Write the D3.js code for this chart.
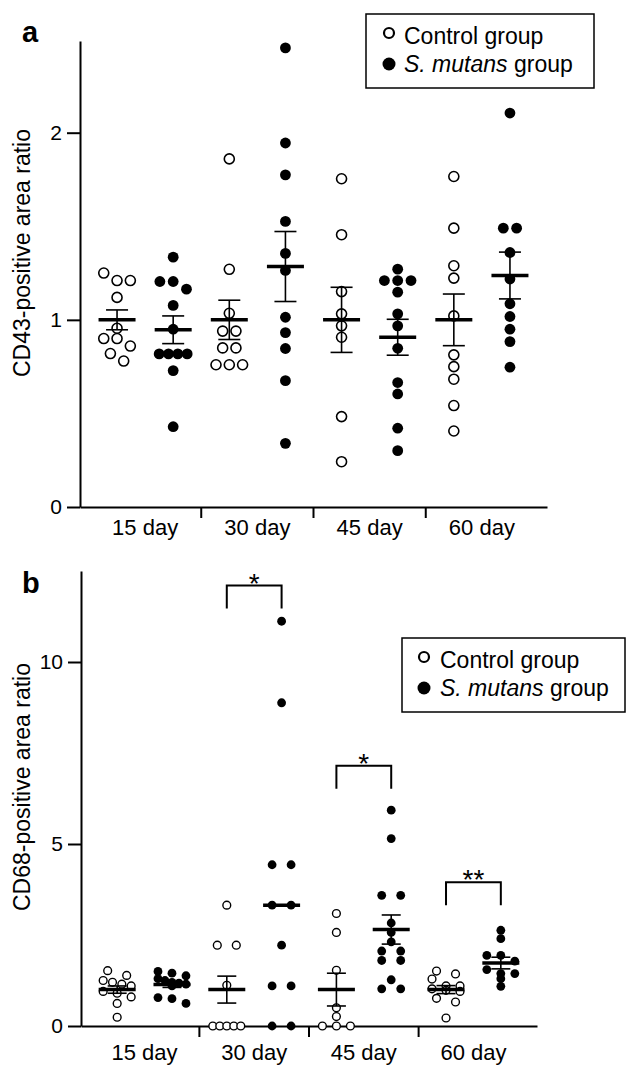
<!DOCTYPE html>
<html>
<head>
<meta charset="utf-8">
<script src="https://cdn.jsdelivr.net/npm/d3@7"></script>
<style>
  body { margin: 0; background: #fff; }
  svg { display: block; font-family: 'Liberation Sans', Arial, sans-serif; }
</style>
</head>
<body>
<figure style="margin:0"></figure>
<script>
const width = 626
const height = 1065

const days = ['15 day', '30 day', '45 day', '60 day']
const groups = ['Control group', 'S. mutans group']

// panel a : CD43
const cd43Ticks = [0, 1, 2]
const cd43Control = [
  [1.25, 1.21, 1.21, 1.12, 0.955, 0.90, 0.90, 0.86, 0.82, 0.78],
  [1.86, 1.27, 1.035, 0.94, 0.94, 0.85, 0.85, 0.76, 0.76, 0.76],
  [1.754, 1.455, 1.151, 1.032, 0.968, 0.907, 0.483, 0.242],
  [1.766, 1.49, 1.289, 1.223, 1.021, 0.813, 0.75, 0.683, 0.542, 0.406]
]
const cd43Mutans = [
  [1.335, 1.205, 1.205, 1.164, 1.077, 0.95, 0.818, 0.818, 0.818, 0.818, 0.729, 0.429],
  [2.453, 1.945, 1.775, 1.526, 1.355, 1.264, 1.014, 0.932, 0.847, 0.675, 0.34],
  [1.271, 1.21, 1.21, 1.21, 1.148, 1.032, 0.968, 0.848, 0.665, 0.604, 0.421, 0.301],
  [2.105, 1.49, 1.49, 1.36, 1.218, 1.086, 1.018, 0.95, 0.884, 0.747]
]
const cd43ControlMean = [1.0, 1.0, 1.0, 1.0]
const cd43ControlSem = [0.053, 0.105, 0.174, 0.138]
const cd43MutansMean = [0.947, 1.285, 0.907, 1.237]
const cd43MutansSem = [0.074, 0.187, 0.096, 0.125]

// panel b : CD68
const cd68Ticks = [0, 5, 10]
const cd68Control = [
  [1.52, 1.39, 1.25, 1.2, 1.15, 1.1, 0.95, 0.9, 0.8, 0.62, 0.24],
  [3.32, 2.22, 2.22, 1.12, 0, 0, 0, 0, 0],
  [3.09, 2.57, 1.53, 0.5, 0.26, 0, 0, 0],
  [1.51, 1.43, 1.29, 1.1, 1.1, 1.02, 0.98, 0.95, 0.76, 0.66, 0.22]
]
const cd68Mutans = [
  [1.5, 1.45, 1.38, 1.3, 1.25, 1.2, 1.18, 1.15, 1.1, 0.78, 0.75, 0.62],
  [11.12, 8.88, 4.43, 4.43, 3.32, 3.32, 2.22, 1.1, 1.1, 0, 0],
  [5.93, 5.15, 3.59, 3.59, 2.83, 2.57, 2.31, 2.06, 2.06, 1.8, 1.8, 1.27, 1.02, 1.02],
  [2.63, 2.4, 1.94, 1.94, 1.78, 1.55, 1.44, 1.44, 1.3, 1.09]
]
const cd68ControlMean = [1.0, 1.0, 1.0, 1.0]
const cd68ControlSem = [0.1, 0.37, 0.45, 0.11]
const cd68MutansMean = [1.14, 3.32, 2.65, 1.73]
const cd68MutansSem = [0.08, null, 0.4, 0.16]
const cd68SigDays = ['30 day', '45 day', '60 day']
const cd68SigLevel = [12.1, 7.15, 3.95]
const cd68SigLabel = ['*', '*', '**']

const svg = d3.select('figure').append('svg')
  .attr('width', width)
  .attr('height', height)

// simple row-based swarm: close values share a row, spread symmetrically
const swarm = (vals, y, gap, step, maxW) => {
  const rows = []
  vals.slice().sort((a, b) => b - a).forEach(v => {
    const row = rows[rows.length - 1]
    if (row && y(v) - y(row[0]) < gap) row.push(v)
    else rows.push([v])
  })
  const out = []
  rows.forEach(row => {
    const s = row.length > 1 ? Math.min(step, maxW / (row.length - 1)) : 0
    row.forEach((v, i) => out.push({ v, dx: (i - (row.length - 1) / 2) * s }))
  })
  return out
}

const drawPanel = (p) => {
  const g = svg.append('g')
  const slots = days.flatMap(d => groups.map(k => d + '|' + k))
  const x = d3.scalePoint().domain(slots).range([p.x0, p.x1]).padding(0.66)
  const y = d3.scaleLinear().domain([0, p.yMax]).range([p.y0, p.y1])

  // y axis
  const yAxis = g.append('g')
    .attr('transform', `translate(${p.x0},0)`)
    .call(d3.axisLeft(y).tickValues(p.ticks).tickFormat(d3.format('d'))
      .tickSize(13).tickPadding(5).tickSizeOuter(0))
  yAxis.select('.domain').attr('stroke-width', 2)
  yAxis.selectAll('.tick line').attr('stroke-width', 2)
  yAxis.selectAll('.tick text')
    .attr('font-size', 21).attr('font-family', "'Liberation Sans', Arial, sans-serif")

  // x axis
  const xAxis = g.append('g')
    .attr('transform', `translate(0,${p.y0})`)
    .call(d3.axisBottom(x).tickValues([]).tickSizeOuter(0))
  xAxis.select('.domain').attr('stroke-width', 2)
  xAxis.selectAll('.sep')
    .data(days.slice(1))
    .join('line')
    .attr('class', 'sep')
    .attr('x1', (d, i) => (x(days[i] + '|' + groups[1]) + x(d + '|' + groups[0])) / 2)
    .attr('x2', (d, i) => (x(days[i] + '|' + groups[1]) + x(d + '|' + groups[0])) / 2)
    .attr('y1', 0).attr('y2', 11)
    .attr('stroke', '#000').attr('stroke-width', 2)
  xAxis.selectAll('.lab')
    .data(days)
    .join('text')
    .attr('class', 'lab')
    .attr('x', d => (x(d + '|' + groups[0]) + x(d + '|' + groups[1])) / 2)
    .attr('y', p.labelDy)
    .attr('text-anchor', 'middle')
    .attr('font-size', 22)
    .attr('fill', '#000')
    .text(d => d)

  // y title
  g.append('text')
    .attr('transform', `translate(30,${p.titleY}) rotate(-90)`)
    .attr('text-anchor', 'middle')
    .attr('font-size', 23)
    .text(p.title)

  // panel letter
  g.append('text')
    .attr('x', 22).attr('y', p.letterY)
    .attr('font-size', 29).attr('font-weight', 'bold')
    .text(p.letter)

  // points
  const series = [
    { key: groups[0], vals: p.control, mean: p.controlMean, sem: p.controlSem, fill: '#fff', r: p.rOpen, sw: p.openStroke },
    { key: groups[1], vals: p.mutans, mean: p.mutansMean, sem: p.mutansSem, fill: '#000', r: p.rFill, sw: 0 }
  ]
  series.forEach(s => {
    days.forEach((d, i) => {
      const cx = x(d + '|' + s.key)
      g.append('g').selectAll('circle')
        .data(swarm(s.vals[i], y, p.gap, p.step, p.maxW))
        .join('circle')
        .attr('cx', e => cx + e.dx)
        .attr('cy', e => y(e.v))
        .attr('r', s.r)
        .attr('fill', s.fill)
        .attr('stroke', '#000')
        .attr('stroke-width', s.sw)
    })
  })

  // mean and SEM
  series.forEach(s => {
    days.forEach((d, i) => {
      const cx = x(d + '|' + s.key)
      const m = s.mean[i]
      const e = s.sem[i]
      if (e != null) {
        g.append('line')
          .attr('x1', cx).attr('x2', cx)
          .attr('y1', y(m - e)).attr('y2', y(m + e))
          .attr('stroke', '#000').attr('stroke-width', 1.6)
        ;[m - e, m + e].forEach(v => {
          g.append('line')
            .attr('x1', cx - p.capW).attr('x2', cx + p.capW)
            .attr('y1', y(v)).attr('y2', y(v))
            .attr('stroke', '#000').attr('stroke-width', 1.6)
        })
      }
      g.append('line')
        .attr('x1', cx - 18.5).attr('x2', cx + 18.5)
        .attr('y1', y(m)).attr('y2', y(m))
        .attr('stroke', '#000').attr('stroke-width', 3.5)
    })
  })

  // significance brackets
  if (p.sigDays) {
    p.sigDays.forEach((d, i) => {
      const xa = x(d + '|' + groups[0])
      const xb = x(d + '|' + groups[1])
      const yt = y(p.sigLevel[i])
      g.append('path')
        .attr('d', `M${xa},${yt + 23}V${yt}H${xb}V${yt + 23}`)
        .attr('fill', 'none').attr('stroke', '#000').attr('stroke-width', 2)
      g.append('text')
        .attr('x', (xa + xb) / 2).attr('y', yt + 7)
        .attr('text-anchor', 'middle')
        .attr('font-size', 28)
        .text(p.sigLabel[i])
    })
  }

  // legend
  const L = p.legend
  const lg = g.append('g')
  lg.append('rect')
    .attr('x', L.x).attr('y', L.y).attr('width', L.w).attr('height', L.h)
    .attr('fill', '#fff').attr('stroke', '#000').attr('stroke-width', 1.5)
  lg.append('circle')
    .attr('cx', L.mx).attr('cy', L.y + 19).attr('r', 5)
    .attr('fill', '#fff').attr('stroke', '#000').attr('stroke-width', 2.2)
  lg.append('circle')
    .attr('cx', L.mx).attr('cy', L.y + 50).attr('r', 6.5)
    .attr('fill', '#000')
  lg.append('text')
    .attr('x', L.tx).attr('y', L.y + 30)
    .attr('font-size', 23)
    .text(groups[0])
  const t2 = lg.append('text')
    .attr('x', L.tx).attr('y', L.y + 58)
    .attr('font-size', 23)
  t2.append('tspan').attr('font-style', 'italic').text('S. mutans')
  t2.append('tspan').text(' group')
}

drawPanel({
  letter: 'a', letterY: 42,
  title: 'CD43-positive area ratio', titleY: 253,
  x0: 80, x1: 547, y0: 507, y1: 41, yMax: 2.49,
  ticks: cd43Ticks, labelDy: 28,
  control: cd43Control, mutans: cd43Mutans,
  controlMean: cd43ControlMean, controlSem: cd43ControlSem,
  mutansMean: cd43MutansMean, mutansSem: cd43MutansSem,
  rOpen: 5, rFill: 5.4, openStroke: 1.6,
  gap: 8, step: 13.3, maxW: 28, capW: 11,
  legend: { x: 366, y: 14, w: 228, h: 74, mx: 389, tx: 404 }
})

drawPanel({
  letter: 'b', letterY: 593,
  title: 'CD68-positive area ratio', titleY: 787,
  x0: 81, x1: 537, y0: 1026, y1: 571, yMax: 12.5,
  ticks: cd68Ticks, labelDy: 34,
  control: cd68Control, mutans: cd68Mutans,
  controlMean: cd68ControlMean, controlSem: cd68ControlSem,
  mutansMean: cd68MutansMean, mutansSem: cd68MutansSem,
  rOpen: 3.9, rFill: 4.4, openStroke: 1.4,
  gap: 7, step: 19, maxW: 28, capW: 9.5,
  sigDays: cd68SigDays, sigLevel: cd68SigLevel, sigLabel: cd68SigLabel,
  legend: { x: 402, y: 638, w: 223, h: 74, mx: 424, tx: 440 }
})
</script>
</body>
</html>
